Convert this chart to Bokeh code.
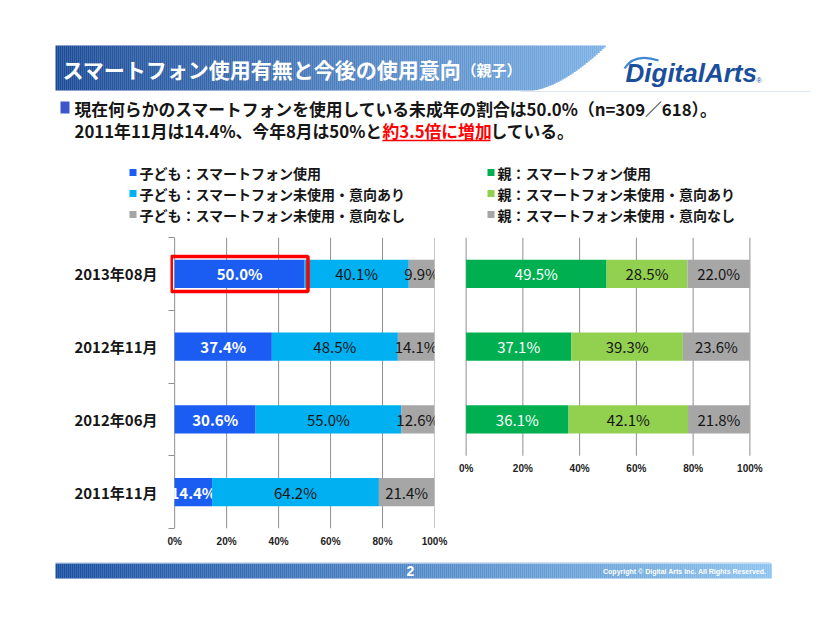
import numpy as np
from bokeh.plotting import figure
from bokeh.models import Range1d, FixedTicker, ColumnDataSource
from bokeh.layouts import column, row
from bokeh.core.properties import value
from bokeh.embed import file_html
from bokeh.resources import INLINE

# ---------------- data ----------------
title_main = "スマートフォン使用有無と今後の使用意向"
title_sub = "（親子）"
logo_text = "DigitalArts"
summary_line1 = "現在何らかのスマートフォンを使用している未成年の割合は50.0%（n=309／618）。"
summary_line2a = "2011年11月は14.4%、今年8月は50%と"
summary_line2b = "約3.5倍に増加"
summary_line2c = "している。"
page_number = "2"
copyright_text = "Copyright © Digital Arts Inc. All Rights Reserved."

periods_child = ["2013年08月", "2012年11月", "2012年06月", "2011年11月"]
child_use = [50.0, 37.4, 30.6, 14.4]
child_intend = [40.1, 48.5, 55.0, 64.2]
child_none = [9.9, 14.1, 12.6, 21.4]

periods_parent = ["2013年08月", "2012年11月", "2012年06月"]
parent_use = [49.5, 37.1, 36.1]
parent_intend = [28.5, 39.3, 42.1]
parent_none = [22.0, 23.6, 21.8]

child_series = ["子ども：スマートフォン使用",
                "子ども：スマートフォン未使用・意向あり",
                "子ども：スマートフォン未使用・意向なし"]
parent_series = ["親：スマートフォン使用",
                 "親：スマートフォン未使用・意向あり",
                 "親：スマートフォン未使用・意向なし"]

x_ticks = [0, 20, 40, 60, 80, 100]
x_tick_labels = ["0%", "20%", "40%", "60%", "80%", "100%"]

# ---------------- styles ----------------
FONT = "Noto Sans CJK JP"
child_colors = ["#1b5cf3", "#00b0f0", "#a6a6a6"]
parent_colors = ["#00b050", "#92d050", "#a6a6a6"]
GRID = "#8f8f8f"
TXT = "#161616"


def blank(width, height):
    p = figure(width=width, height=height, x_range=Range1d(0, width),
               y_range=Range1d(height, 0), toolbar_location=None,
               output_backend="svg", x_axis_type=None, y_axis_type=None,
               min_border=0)
    p.grid.visible = False
    p.outline_line_color = None
    p.background_fill_color = None
    p.border_fill_color = None
    return p


def mix(c1, c2, t):
    return "#%02x%02x%02x" % tuple(int(round(a + (b - a) * t)) for a, b in zip(c1, c2))


# ---------------- header (page coordinates) ----------------
hdr = blank(826, 228)

x0, x1, xc = 55, 605, 530
xs = np.arange(x0, x1, 2.0)
bots, cols = [], []
for x in xs:
    t = (x - x0) / (x1 - x0)
    if x < xc:
        b = 90
    else:
        u = (x - xc) / (x1 - xc)
        b = 90 - 45 * u ** 1.6
    bots.append(b)
    cols.append(mix((26, 74, 150), (125, 178, 230), t))
hdr.quad(left=xs, right=xs + 2.2, top=[45] * len(xs), bottom=bots, fill_color=cols, line_color=None)
hdr.line(x=[520, 600, 810], y=[91, 91, 91], line_color="#dbe6f3", line_width=1)

hdr.text(x=[62], y=[68], text=[title_main], text_color="white", text_font=value(FONT),
         text_font_size="21px", text_font_style="bold", text_baseline="middle")
hdr.text(x=[461], y=[69], text=[title_sub], text_color="white", text_font=value(FONT),
         text_font_size="15px", text_font_style="bold", text_baseline="middle")

hdr.text(x=[625], y=[72], text=[logo_text], text_color="#1b4f9c", text_font=value("Liberation Sans"),
         text_font_size="26px", text_font_style="bold italic", text_baseline="middle")
hdr.text(x=[756], y=[80], text=["®"], text_color="#1b4f9c", text_font=value("Liberation Sans"),
         text_font_size="7px", text_baseline="middle")
hdr.quadratic(x0=[624], y0=[68], x1=[658], y1=[60], cx=[634], cy=[52],
              line_color="#3f86d4", line_width=2.2)

# summary bullet + text
hdr.quad(left=[60], right=[69], top=[101], bottom=[113], fill_color="#3c56cc", line_color=None)
hdr.text(x=[74], y=[108], text=[summary_line1], text_color=TXT, text_font=value(FONT),
         text_font_size="16.8px", text_font_style="bold", text_baseline="middle")
hdr.text(x=[74], y=[130], text=[summary_line2a], text_color=TXT, text_font=value(FONT),
         text_font_size="16.8px", text_font_style="bold", text_baseline="middle")
hdr.text(x=[382], y=[130], text=[summary_line2b], text_color="#ff0000", text_font=value(FONT),
         text_font_size="16.8px", text_font_style="bold", text_baseline="middle")
hdr.segment(x0=[382], x1=[490], y0=[140], y1=[140], line_color="#ff0000", line_width=1.5)
hdr.text(x=[490], y=[130], text=[summary_line2c], text_color=TXT, text_font=value(FONT),
         text_font_size="16.8px", text_font_style="bold", text_baseline="middle")

# legends
leg_y = [172, 193, 214]
for names, colors, sx in ((child_series, child_colors, 129), (parent_series, parent_colors, 487)):
    hdr.rect(x=[sx + 3.5] * 3, y=leg_y, width=7, height=7, fill_color=colors, line_color=None)
    hdr.text(x=[sx + 10] * 3, y=leg_y, text=names, text_color=TXT, text_font=value(FONT),
             text_font_size="14px", text_font_style="bold", text_baseline="middle")


# ---------------- charts ----------------
def bar_chart(periods, series, colors, label_colors, label_styles, width,
              b_left, b_right, x_lo, x_hi, n_bands, show_y):
    n = len(periods)
    ys = [n - 1 - i for i in range(n)]
    lo = n - 0.5 - n_bands
    p = figure(width=width, height=330, x_range=Range1d(x_lo, x_hi),
               y_range=Range1d(lo, n - 0.5), toolbar_location=None,
               output_backend="svg", min_border_left=b_left, min_border_right=b_right,
               min_border_top=9, min_border_bottom=30)
    p.outline_line_color = None
    p.background_fill_color = None
    p.border_fill_color = None
    p.grid.visible = False
    # vertical grid lines spanning the used bands only
    p.segment(x0=x_ticks, x1=x_ticks, y0=[-0.5] * len(x_ticks), y1=[n - 0.5] * len(x_ticks),
              line_color=GRID, line_width=1)

    totals = np.sum(np.array(series, dtype=float), axis=0)
    left = np.zeros(n)
    for vals, col, lc, ls in zip(series, colors, label_colors, label_styles):
        w = np.array(vals, dtype=float) / totals * 100.0
        right = left + w
        p.hbar(y=ys, left=left, right=right, height=0.39, fill_color=col, line_color=None)
        src = ColumnDataSource(dict(x=(left + right) / 2, y=ys, t=["%.1f%%" % v for v in vals]))
        p.text(x="x", y="y", text="t", source=src, text_align="center", text_baseline="middle",
               text_color=lc, text_font=value(FONT), text_font_size="15px", text_font_style=ls)
        left = right

    xa = p.xaxis[0]
    if lo < -0.5:
        xa.fixed_location = -0.5
    xa.ticker = FixedTicker(ticks=x_ticks)
    xa.major_label_overrides = {t: l for t, l in zip(x_ticks, x_tick_labels)}
    xa.axis_line_color = None
    xa.major_tick_line_color = None
    xa.minor_tick_line_color = None
    xa.major_tick_out = 0
    xa.major_label_standoff = 7
    xa.major_label_text_font = "Liberation Sans"
    xa.major_label_text_font_size = "10px"
    xa.major_label_text_font_style = "bold"
    xa.major_label_text_color = "#222222"

    ya = p.yaxis[0]
    if show_y:
        ya.ticker = FixedTicker(ticks=ys, minor_ticks=[k - 0.5 for k in range(n + 1)])
        ya.major_label_overrides = {y: lab for y, lab in zip(ys, periods)}
        ya.major_tick_line_color = None
        ya.major_tick_out = 0
        ya.major_tick_in = 0
        ya.minor_tick_line_color = GRID
        ya.minor_tick_out = 2
        ya.minor_tick_in = 4
        ya.axis_line_color = None
        ya.major_label_standoff = 11
        ya.major_label_text_font = FONT
        ya.major_label_text_font_size = "15px"
        ya.major_label_text_font_style = "bold"
        ya.major_label_text_color = TXT
    else:
        ya.visible = False
    return p, ys


left_fig, ys_c = bar_chart(periods_child, [child_use, child_intend, child_none], child_colors,
                           ["white", TXT, TXT], ["bold", "normal", "normal"],
                           450, 170, 16, -1.6, 100, 4, True)
# highlight of the latest child-use bar
hl_w = child_use[0] / (child_use[0] + child_intend[0] + child_none[0]) * 100.0
left_fig.rect(x=[hl_w / 2], y=[ys_c[0]], width=[hl_w + 2.6], height=35, height_units="screen",
              fill_color=None, line_color="#ff0000", line_width=3.5)

right_fig, _ = bar_chart(periods_parent, [parent_use, parent_intend, parent_none], parent_colors,
                         ["white", TXT, TXT], ["normal", "normal", "normal"],
                         376, 0, 61, -5.5, 105.5, 4, False)

# ---------------- footer ----------------
ftr = blank(826, 56)
fx = np.arange(55, 770, 2.0)
fcols = [mix((24, 78, 160), (140, 195, 238), (x - 55) / (770 - 55)) for x in fx]
ftr.quad(left=fx, right=fx + 2.2, top=[5] * len(fx), bottom=[20] * len(fx), fill_color=fcols, line_color=None)
ftr.line(x=[55, 770], y=[4, 4], line_color="#cfdff0", line_width=1)
ftr.text(x=[410], y=[12.5], text=[page_number], text_color="white", text_font=value("Liberation Sans"),
         text_font_size="14px", text_font_style="bold", text_align="center", text_baseline="middle")
ftr.text(x=[766], y=[13], text=[copyright_text], text_color="white", text_font=value("Liberation Sans"),
         text_font_size="7px", text_font_style="bold", text_align="right", text_baseline="middle")

layout = column(hdr, row(left_fig, right_fig), ftr)
open("out.html", "w").write(file_html(layout, INLINE))
